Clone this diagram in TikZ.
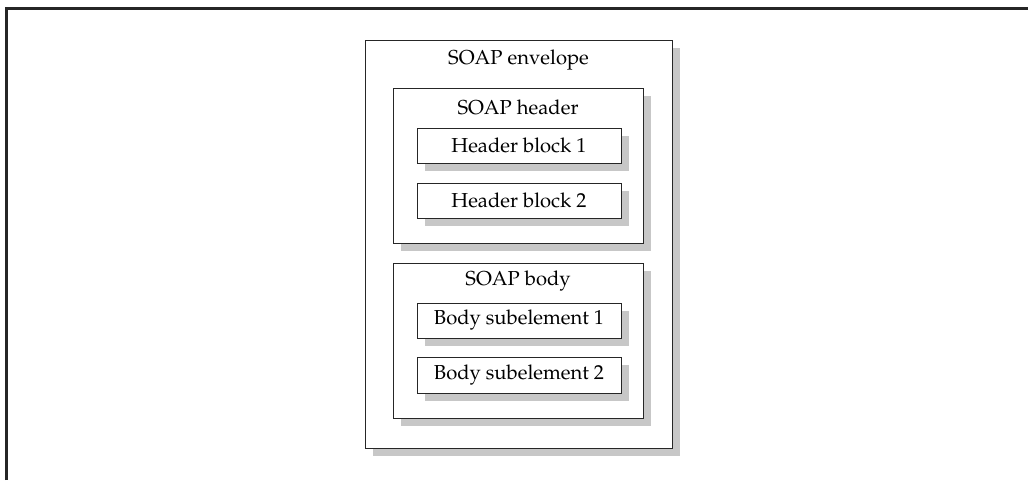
\documentclass[tikz,border=0pt]{standalone}
\usepackage[T1]{fontenc}
\renewcommand{\rmdefault}{ppl}
\usetikzlibrary{shadows}
\begin{document}
\begin{tikzpicture}[x=1pt,y=-1pt,
  txt/.style={font=\fontsize{20.2}{24}\selectfont},
  box/.style={draw=black!85, line width=0.9pt, fill=white, inner sep=0pt,
    drop shadow={shadow xshift=8pt, shadow yshift=-8pt, fill=black!22, opacity=1}},
  lab/.style={txt, inner sep=0pt}]
\useasboundingbox (0,0) rectangle (1028,480);
\draw[line width=3pt, black!85] (6.5,480) -- (6.5,8.5) -- (1028,8.5);
% envelope
\node[box, minimum width=307pt, minimum height=408pt] (env) at (518.5,244) {};
\node[lab] (envt) at (518.5,60) {SOAP envelope};
% header
\node[box, minimum width=250pt, minimum height=155pt] (hdr) at (518,165.5) {};
\node[lab] (hdrt) at (518,107) {SOAP header};
\node[box, txt, minimum width=204pt, minimum height=35pt] (hb1) at (519,145.5) {Header block 1};
\node[box, txt, minimum width=204pt, minimum height=35pt] (hb2) at (519,200.5) {Header block 2};
% body
\node[box, minimum width=250pt, minimum height=155pt] (bdy) at (518,340.5) {};
\node[lab] (bdyt) at (518,281) {SOAP body};
\node[box, txt, minimum width=204pt, minimum height=35pt] (bs1) at (519,320.5) {Body subelement 1};
\node[box, txt, minimum width=204pt, minimum height=36pt] (bs2) at (519,375) {Body subelement 2};
\end{tikzpicture}
\end{document}
